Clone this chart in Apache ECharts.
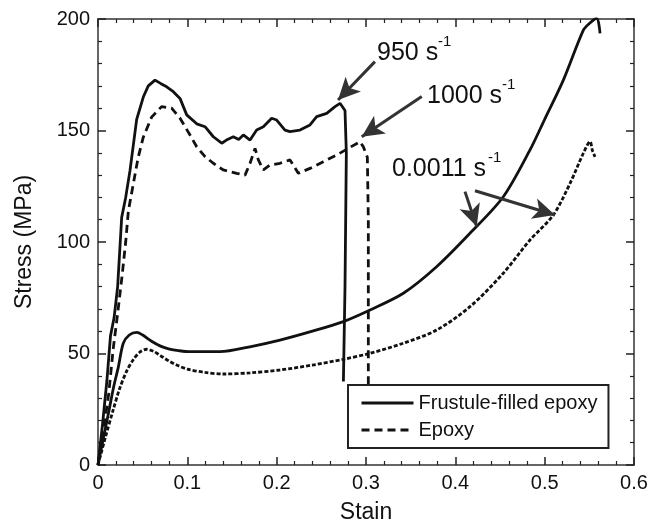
<!DOCTYPE html>
<html>
<head>
<meta charset="utf-8">
<script src="https://cdn.jsdelivr.net/npm/echarts@6/dist/echarts.min.js"></script>
<style>html,body{margin:0;padding:0;background:#fff;}#c{width:653px;height:530px;}</style>
</head>
<body>
<div id="c"></div>
<script>
// ---- Data (strain, stress in MPa) ----
const xTicks = [0, 0.1, 0.2, 0.3, 0.4, 0.5, 0.6];
const yTicks = [0, 50, 100, 150, 200];

// Frustule-filled epoxy, 950 s^-1
const strainFF950 = [0,0.005,0.01,0.014,0.018,0.022,0.0265,0.031,0.0358,0.0433,0.0507,0.0563,0.0638,0.0705,0.0769,0.0843,0.0918,0.0993,0.1105,0.1198,0.1291,0.1385,0.145,0.1515,0.1575,0.1627,0.1702,0.1776,0.1851,0.1944,0.2,0.2093,0.2149,0.2261,0.2373,0.2448,0.256,0.2653,0.2709,0.2765,0.278,0.2765,0.2747];
const stressFF950 = [0,18,38,58,66,80,111,120,132,155,165,170,172.6,171,169.6,167.4,164.4,157,153,151.7,147.2,144.3,146,147.2,146,148,145.7,150.2,151.7,155.5,154.7,150.2,149.5,150.2,152.5,156.2,157.7,160.7,162.2,159,140,80,37.4];

// Epoxy, 1000 s^-1
const strainEP1000 = [0,0.006,0.012,0.017,0.022,0.027,0.031,0.034,0.0395,0.045,0.0507,0.06,0.0712,0.0824,0.0918,0.103,0.1105,0.1198,0.1291,0.1403,0.1553,0.1646,0.1702,0.1758,0.1795,0.1851,0.1925,0.2037,0.2149,0.2242,0.2373,0.2522,0.2672,0.2802,0.2933,0.297,0.3015,0.3026,0.3026,0.3026];
const stressEP1000 = [0,15,32,52,68,85,100,114,126,138,147,156,160.7,160,155.5,148,142.7,138.3,135.3,132.3,130.8,130,135.3,142,136.8,132.3,134.5,135.3,136.8,130.8,133,136,139,142,145,142.7,138,110,60,36];

// Frustule-filled epoxy, 0.0011 s^-1
const strainFFqs = [0,0.006,0.0116,0.0175,0.0228,0.0283,0.035,0.0433,0.05,0.06,0.07,0.08,0.09,0.103,0.12,0.1366,0.17,0.2037,0.24,0.2747,0.3045,0.3418,0.379,0.4164,0.4537,0.4836,0.5,0.5209,0.5433,0.55,0.5582,0.562];
const stressFFqs = [0,12,23,35,44,54.6,58.3,59.5,58.3,55.5,53.3,52,51.3,50.8,50.8,50.8,53,56,60,64.3,69.5,77,88.9,103.9,120.3,141.3,155,172.6,195,198,200.3,193.6];

// Epoxy, 0.0011 s^-1
const strainEPqs = [0,0.008,0.017,0.024,0.032,0.04,0.0475,0.0545,0.062,0.07,0.08,0.09,0.1,0.12,0.1403,0.17,0.2037,0.24,0.2747,0.3045,0.3418,0.379,0.4164,0.4537,0.4836,0.5097,0.5284,0.5433,0.5508,0.5535,0.5564];
const stressEPqs = [0,12,24.7,34,42,47.5,50.8,51.9,51,49,46.5,44.5,43,41.5,40.8,41.3,42.6,44.8,47.4,50.1,54.6,60.5,71,86,100.9,112.1,126.3,139.8,145,141,138.2];

const pairs = (xs, ys) => xs.map((x, i) => [x, ys[i]]);

const chart = echarts.init(document.getElementById('c'), null, {renderer: 'canvas'});
const FONT = 'Liberation Sans, Arial, Helvetica, sans-serif';
const INK = '#111';

function axisCommon() {
  return {
    axisLine: {show: true, onZero: false, lineStyle: {color: '#333', width: 1.5}},
    axisTick: {show: true, inside: true, length: 8, lineStyle: {color: '#222', width: 1.5}},
    minorTick: {show: true, splitNumber: 5, length: 4, lineStyle: {color: '#222', width: 1.2}},
    splitLine: {show: false},
    minorSplitLine: {show: false}
  };
}

const arrowSeries = {
  type: 'line', data: [], silent: true, symbol: 'none',
  markLine: {
    silent: true, symbol: ['none', 'arrow'], symbolSize: [16, 22],
    label: {show: false},
    lineStyle: {color: '#333', width: 3, type: 'solid'},
    emphasis: {disabled: true},
    data: [
      [{coord: [0.310, 180.9]}, {coord: [0.2687, 163.7]}],
      [{coord: [0.3624, 165.2]}, {coord: [0.2952, 147.2]}],
      [{coord: [0.4108, 122.6]}, {coord: [0.4239, 106.9]}],
      [{coord: [0.422, 123.0]}, {coord: [0.5116, 112.1]}]
    ]
  }
};

const option = {
  backgroundColor: '#fff',
  animation: false,
  textStyle: {fontFamily: FONT},
  grid: {left: 98, right: 19, top: 19, bottom: 65, containLabel: false},
  legend: {
    orient: 'vertical', left: 348, top: 385,
    padding: [8, 11, 8, 12], itemGap: 7,
    itemWidth: 52, itemHeight: 14,
    borderColor: '#222', borderWidth: 2, backgroundColor: '#fff',
    itemStyle: {color: 'rgba(0,0,0,0)', borderWidth: 0, opacity: 0},
    lineStyle: {width: 3},
    textStyle: {fontFamily: FONT, fontSize: 20, color: INK},
    data: ['Frustule-filled epoxy', 'Epoxy'],
    selectedMode: false
  },
  xAxis: [
    Object.assign(axisCommon(), {
      type: 'value', min: 0, max: 0.6, interval: 0.1, position: 'bottom',
      name: 'Stain', nameLocation: 'middle', nameGap: 36,
      nameTextStyle: {fontFamily: FONT, fontSize: 23, color: INK},
      axisLabel: {margin: 8, fontFamily: FONT, fontSize: 20, color: INK,
        formatter: v => String(+v.toFixed(1))}
    }),
    Object.assign(axisCommon(), {
      type: 'value', min: 0, max: 0.6, interval: 0.1, position: 'top',
      axisLabel: {show: false}
    })
  ],
  yAxis: [
    Object.assign(axisCommon(), {
      type: 'value', min: 0, max: 200, interval: 50, position: 'left',
      name: 'Stress (MPa)', nameLocation: 'middle', nameGap: 62,
      nameTextStyle: {fontFamily: FONT, fontSize: 23, color: INK},
      axisLabel: {margin: 8, fontFamily: FONT, fontSize: 20, color: INK}
    }),
    Object.assign(axisCommon(), {
      type: 'value', min: 0, max: 200, interval: 50, position: 'right',
      axisLabel: {show: false}
    })
  ],
  series: [
    {name: 'Frustule-filled epoxy', type: 'line', symbol: 'none', silent: true,
     data: pairs(strainFF950, stressFF950),
     lineStyle: {color: INK, width: 2.8, type: 'solid'}, itemStyle: {color: INK}},
    {name: 'Epoxy', type: 'line', symbol: 'none', silent: true,
     data: pairs(strainEP1000, stressEP1000),
     lineStyle: {color: INK, width: 2.8, type: [8, 5]}, itemStyle: {color: INK}},
    {name: 'Frustule-filled epoxy', type: 'line', symbol: 'none', silent: true, smooth: 0.3,
     data: pairs(strainFFqs, stressFFqs),
     lineStyle: {color: INK, width: 2.8, type: 'solid'}, itemStyle: {color: INK}},
    {name: 'Epoxy', type: 'line', symbol: 'none', silent: true, smooth: 0.3,
     data: pairs(strainEPqs, stressEPqs),
     lineStyle: {color: INK, width: 2.8, type: [4, 2]}, itemStyle: {color: INK}},
    arrowSeries
  ],
  graphic: [
    {type: 'text', left: 377, top: 41, style: {text: '950 s', font: '25px ' + FONT, fill: INK}},
    {type: 'text', left: 438, top: 34, style: {text: '-1', font: '15px ' + FONT, fill: INK}},
    {type: 'text', left: 427, top: 84, style: {text: '1000 s', font: '25px ' + FONT, fill: INK}},
    {type: 'text', left: 502, top: 77, style: {text: '-1', font: '15px ' + FONT, fill: INK}},
    {type: 'text', left: 392, top: 157, style: {text: '0.0011 s', font: '25px ' + FONT, fill: INK}},
    {type: 'text', left: 488, top: 150, style: {text: '-1', font: '15px ' + FONT, fill: INK}}
  ]
};
chart.setOption(option);
</script>
</body>
</html>
